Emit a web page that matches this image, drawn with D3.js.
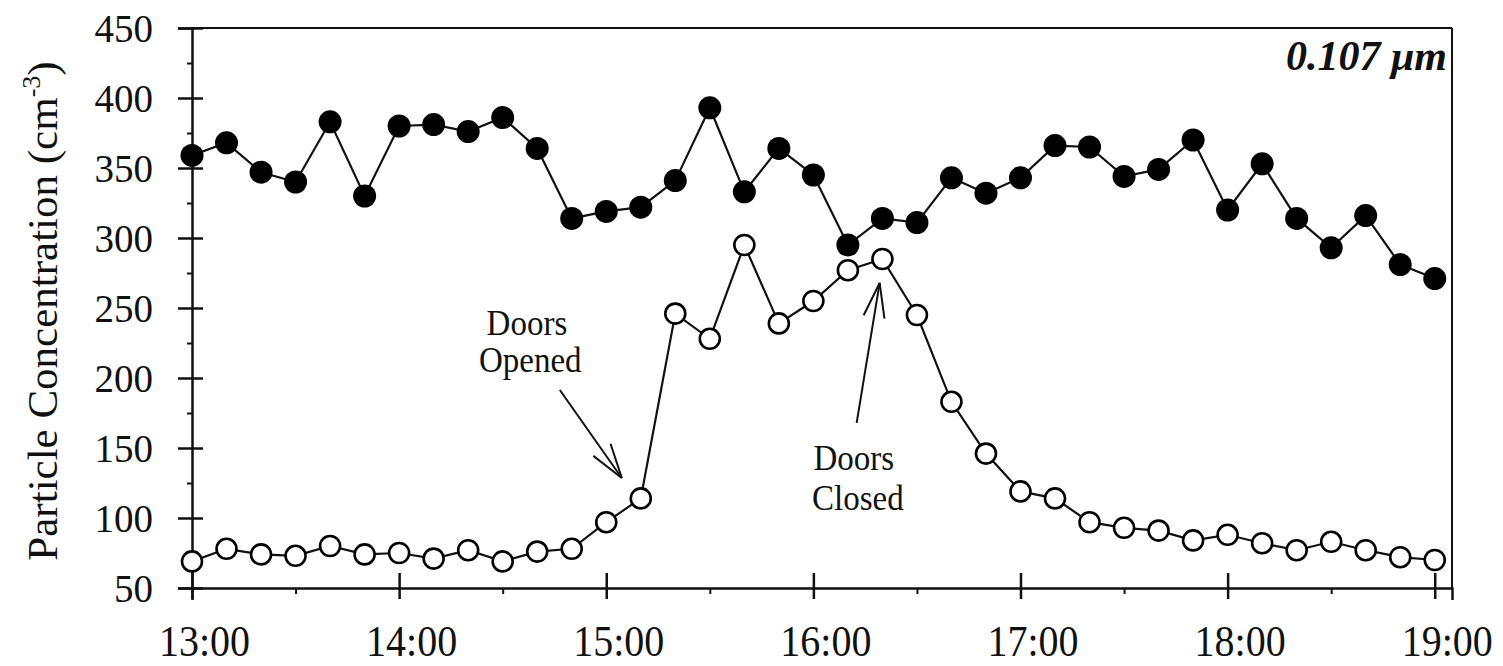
<!DOCTYPE html>
<html>
<head>
<meta charset="utf-8">
<script src="https://cdn.jsdelivr.net/npm/d3@7"></script>
<style>
  body { margin: 0; background: #fff; }
  svg { display: block; }
  text { font-family: "Liberation Serif", "Times New Roman", serif; fill: #111; }
</style>
</head>
<body>
<svg id="chart" width="1503" height="666"></svg>
<script>
// Sampling times (10-minute intervals)
const times = [
  "13:00","13:10","13:20","13:30","13:40","13:50",
  "14:00","14:10","14:20","14:30","14:40","14:50",
  "15:00","15:10","15:20","15:30","15:40","15:50",
  "16:00","16:10","16:20","16:30","16:40","16:50",
  "17:00","17:10","17:20","17:30","17:40","17:50",
  "18:00","18:10","18:20","18:30","18:40","18:50",
  "19:00"
];

// Outdoor concentration (filled circles), cm^-3
const outdoor = [
  359, 368, 347, 340, 383, 330,
  380, 381, 376, 386, 364, 314,
  319, 322, 341, 393, 333, 364,
  345, 295, 314, 311, 343, 332,
  343, 366, 365, 344, 349, 370,
  320, 353, 314, 293, 316, 281,
  271
];

// Indoor concentration (open circles), cm^-3
const indoor = [
  69, 78, 74, 73, 80, 74,
  75, 71, 77, 69, 76, 78,
  97, 114, 246, 228, 295, 239,
  255, 277, 285, 245, 183, 146,
  119, 114, 97, 93, 91, 84,
  88, 82, 77, 83, 77, 72,
  70
];

const xTickLabels = ["13:00","14:00","15:00","16:00","17:00","18:00","19:00"];
const yTicks = [50, 100, 150, 200, 250, 300, 350, 400, 450];
const yMinorTicks = [75, 125, 175, 225, 275, 325, 375, 425];
const sizeLabel = "0.107 μm";

const toHours = s => { const [h, m] = s.split(":").map(Number); return h + m / 60; };

const svg = d3.select("#chart");
const ink = "#111";

const x = d3.scaleLinear().domain([13, 19 + 5 / 60]).range([192, 1452]);
const y = d3.scaleLinear().domain([50, 450]).range([588, 28]);

const xMajor = xTickLabels.map(toHours);
const xMinor = xMajor.slice(0, -1).map(h => h + 0.5);

// ---- plot frame (top and right edges)
svg.append("line")
  .attr("x1", x.range()[0]).attr("x2", x.range()[1])
  .attr("y1", y.range()[1]).attr("y2", y.range()[1])
  .attr("stroke", ink).attr("stroke-width", 2);
svg.append("line")
  .attr("x1", x.range()[1]).attr("x2", x.range()[1])
  .attr("y1", y.range()[0]).attr("y2", y.range()[1])
  .attr("stroke", ink).attr("stroke-width", 2);

// ---- y axis
const yAxisG = svg.append("g").attr("transform", `translate(${x.range()[0]},0)`);
yAxisG.call(d3.axisLeft(y).tickValues(yTicks).tickSizeOuter(0).tickSize(14).tickPadding(25));
yAxisG.select(".domain").attr("stroke", ink).attr("stroke-width", 2.5);
yAxisG.selectAll(".tick line").attr("x1", 11).attr("x2", -14).attr("stroke", ink).attr("stroke-width", 2.5);
yAxisG.selectAll(".tick text")
  .attr("x", -39).attr("dy", "0.34em")
  .attr("font-size", 39).attr("fill", ink);

const yMinorG = svg.append("g").attr("transform", `translate(${x.range()[0]},0)`);
yMinorG.call(d3.axisLeft(y).tickValues(yMinorTicks).tickSize(5).tickFormat(""));
yMinorG.select(".domain").remove();
yMinorG.selectAll(".tick line").attr("stroke", ink).attr("stroke-width", 2);

// ---- x axis
const xAxisG = svg.append("g").attr("transform", `translate(0,${y.range()[0]})`);
xAxisG.call(d3.axisBottom(x).tickValues(xMajor).tickSizeOuter(0).tickSize(12)
  .tickFormat((d, i) => xTickLabels[i]));
xAxisG.select(".domain").attr("stroke", ink).attr("stroke-width", 2.5);
xAxisG.selectAll(".tick line").attr("y1", -15).attr("y2", 11).attr("stroke", ink).attr("stroke-width", 2.5);
xAxisG.selectAll(".tick text")
  .attr("y", null).attr("dy", null)
  .attr("transform", "translate(12,68) scale(1,1.1)")
  .attr("font-size", 40).attr("fill", ink);

const xMinorG = svg.append("g").attr("transform", `translate(0,${y.range()[0]})`);
xMinorG.call(d3.axisBottom(x).tickValues(xMinor).tickSize(6).tickFormat(""));
xMinorG.select(".domain").remove();
xMinorG.selectAll(".tick line").attr("stroke", ink).attr("stroke-width", 2);

// ---- y axis title
const yTitle = svg.append("text")
  .attr("transform", "translate(57,311) rotate(-90)")
  .attr("text-anchor", "middle")
  .attr("font-size", 43);
yTitle.append("tspan").text("Particle Concentration (cm");
yTitle.append("tspan").attr("dy", -17).attr("font-size", 26).text("-3");
yTitle.append("tspan").attr("dy", 17).text(")");

// ---- series
const rows = times.map((t, i) => ({ t: toHours(t), out: outdoor[i], inn: indoor[i] }));

const lineOut = d3.line().x(d => x(d.t)).y(d => y(d.out));
const lineIn = d3.line().x(d => x(d.t)).y(d => y(d.inn));

svg.append("path").datum(rows).attr("d", lineOut)
  .attr("fill", "none").attr("stroke", ink).attr("stroke-width", 2.2);
svg.append("g").selectAll("circle").data(rows).join("circle")
  .attr("cx", d => x(d.t)).attr("cy", d => y(d.out)).attr("r", 11.5)
  .attr("fill", "#000");

svg.append("path").datum(rows).attr("d", lineIn)
  .attr("fill", "none").attr("stroke", ink).attr("stroke-width", 2.2);
svg.append("g").selectAll("circle").data(rows).join("circle")
  .attr("cx", d => x(d.t)).attr("cy", d => y(d.inn)).attr("r", 10)
  .attr("fill", "#fff").attr("stroke", "#000").attr("stroke-width", 2.6);

// ---- annotations
function arrow(from, to) {
  const x1 = x(from[0]), y1 = y(from[1]), x2 = x(to[0]), y2 = y(to[1]);
  const back = Math.atan2(y1 - y2, x1 - x2);
  const len = 36, spread = 17 * Math.PI / 180;
  const g = svg.append("g").attr("stroke", ink).attr("stroke-width", 2).attr("fill", "none");
  g.append("line").attr("x1", x1).attr("y1", y1).attr("x2", x2).attr("y2", y2);
  [-spread, spread].forEach(a => {
    g.append("line").attr("x1", x2).attr("y1", y2)
      .attr("x2", x2 + len * Math.cos(back + a))
      .attr("y2", y2 + len * Math.sin(back + a));
  });
}

function note(lines, hour, values) {
  lines.forEach((s, i) => {
    svg.append("text")
      .attr("transform", `translate(${x(hour[i])},${y(values[i])}) scale(1,1.08)`)
      .attr("text-anchor", "middle")
      .attr("font-size", 33)
      .text(s);
  });
}

note(["Doors", "Opened"], [14.617, 14.633], [230.7, 204.3]);
arrow([14.776, 191.4], [15.075, 128.6]);

note(["Doors", "Closed"], [16.195, 16.215], [134.3, 105.7]);
arrow([16.209, 167.9], [16.32, 267.9]);

// ---- particle size label
svg.append("text")
  .attr("x", 1447).attr("y", 70)
  .attr("text-anchor", "end")
  .attr("font-size", 42)
  .attr("font-weight", "bold")
  .attr("font-style", "italic")
  .text(sizeLabel);
</script>
</body>
</html>
